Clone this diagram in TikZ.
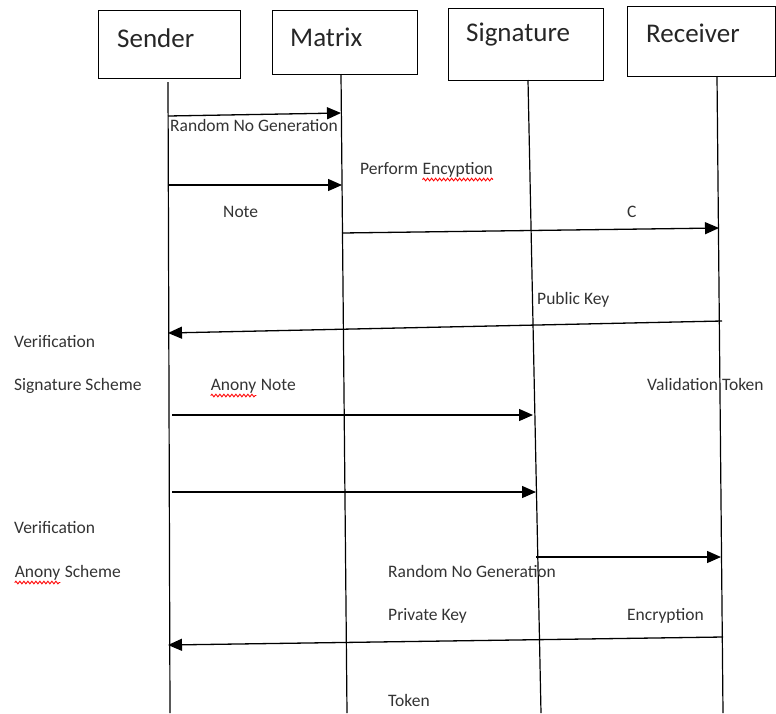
\documentclass[tikz,border=0pt]{standalone}
\usepackage{fontspec}
\setmainfont{Carlito}
\usetikzlibrary{arrows.meta,decorations.pathmorphing}
\tikzset{
  actor/.style={draw,line width=1.2pt,anchor=north west,inner sep=0pt},
  head/.style={anchor=west,inner sep=0pt,text=black!85,font=\fontsize{27}{30}\selectfont},
  msg/.style={anchor=base west,inner sep=0pt,text=black!80,font=\fontsize{17.5}{20}\selectfont},
  life/.style={line width=1.2pt},
  call/.style={line width=1.3pt,-{Triangle[length=14pt,width=12pt]}},
  squiggle/.style={red,line width=0.9pt,decorate,decoration={snake,amplitude=1.3pt,segment length=4pt}}
}
\newcommand{\spellmark}[1]{\tikz[baseline=(w.base)]{\node[inner sep=0pt] (w) {#1};
  \draw[squiggle] ([yshift=-2.5pt]w.south west) -- ([yshift=-2.5pt]w.south east);}}
\begin{document}
\begin{tikzpicture}[x=1pt,y=-1pt]
  \useasboundingbox (0,0) rectangle (776,713);
  \node[actor,minimum width=142,minimum height=68] (sender) at (98,10) {};
  \node[actor,minimum width=145,minimum height=64] (matrix) at (272,10) {};
  \node[actor,minimum width=155,minimum height=72] (signature) at (448,8) {};
  \node[actor,minimum width=148,minimum height=70] (receiver) at (627,6) {};
  \node[head] (senderlbl) at (117,38) {Sender};
  \node[head] (matrixlbl) at (290,37) {Matrix};
  \node[head] (signaturelbl) at (466,35) {Signature};
  \node[head] (receiverlbl) at (646,33) {Receiver};
  \coordinate (stop) at (168,82);
  \coordinate (sbot) at (170,713);
  \coordinate (mtop) at (341,74);
  \coordinate (mbot) at (347,713);
  \coordinate (gtop) at (528,80);
  \coordinate (gbot) at (541,713);
  \coordinate (rtop) at (717,76);
  \coordinate (rbot) at (723,713);
  \begin{scope}[life]
    \draw (stop) -- (sbot);
    \draw (mtop) -- (mbot);
    \draw (gtop) -- (gbot);
    \draw (rtop) -- (rbot);
  \end{scope}
  \coordinate (a1) at (168,116);
  \coordinate (b1) at (341,113);
  \coordinate (a2) at (169,185);
  \coordinate (b2) at (342,185);
  \coordinate (a3) at (342,233);
  \coordinate (b3) at (719,228);
  \coordinate (a4) at (722,321);
  \coordinate (b4) at (168,333);
  \coordinate (a5) at (172,415);
  \coordinate (b5) at (533,415);
  \coordinate (a6) at (172,492);
  \coordinate (b6) at (536,492);
  \coordinate (a7) at (536,557);
  \coordinate (b7) at (721,557);
  \coordinate (a8) at (723,637);
  \coordinate (b8) at (168,645);
  \begin{scope}[call]
    \draw (a1) -- (b1);
    \draw (a2) -- (b2);
    \draw (a3) -- (b3);
    \draw (a4) -- (b4);
    \draw (a5) -- (b5);
    \draw (a6) -- (b6);
    \draw (a7) -- (b7);
    \draw (a8) -- (b8);
  \end{scope}
  \node[msg] (randomno) at (170,131) {Random No Generation};
  \node[msg] (perform) at (360,174) {Perform \spellmark{Encyption}};
  \node[msg] (note) at (223,217) {Note};
  \node[msg] (clbl) at (627,217) {C};
  \node[msg] (publickey) at (537,304) {Public Key};
  \node[msg] (verif1) at (14,347) {Verification};
  \node[msg] (sigscheme) at (14,390) {Signature Scheme};
  \node[msg] (anonynote) at (210,390) {\spellmark{Anony} Note};
  \node[msg] (validation) at (647,390) {Validation Token};
  \node[msg] (verif2) at (14,533) {Verification};
  \node[msg] (anonyscheme) at (14,577) {\spellmark{Anony} Scheme};
  \node[msg] (randomno2) at (388,577) {Random No Generation};
  \node[msg] (privatekey) at (388,620) {Private Key};
  \node[msg] (encryption) at (627,620) {Encryption};
  \node[msg] (token) at (388,706) {Token};
\end{tikzpicture}
\end{document}
